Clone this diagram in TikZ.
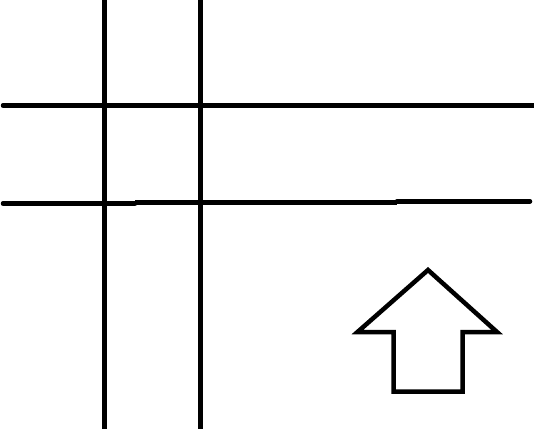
\documentclass[tikz,border=0pt]{standalone}
\usepackage{tikz}
\usetikzlibrary{arrows}
\tikzstyle{stroke} = [draw, black, line width=4.5pt]
\tikzstyle{road} = [stroke, line cap=round]
\tikzstyle{uparrow} = [stroke, line join=miter]

\begin{document}
\begin{tikzpicture}[x=1pt, y=-1pt]
	\useasboundingbox (0,0) rectangle (534,428);
	
	\coordinate (v1top) at (104.5,-3);
	\coordinate (v1bot) at (104.5,431);
	\coordinate (v2top) at (200.5,-3);
	\coordinate (v2bot) at (200.5,431);
	\draw [stroke] (v1top) -- (v1bot);
	\draw [stroke] (v2top) -- (v2bot);
	
	\coordinate (h1left) at (3,105.5);
	\coordinate (h1right) at (537,105.5);
	\draw [road] (h1left) -- (h1right);
	
	\coordinate (h2left) at (3,203.5);
	\coordinate (h2stepa) at (135,203.5);
	\coordinate (h2stepb) at (397,202.3);
	\coordinate (h2right) at (530,201.3);
	\draw [road] (h2left) -- (h2stepa);
	\draw [stroke] (h2stepa |- 0,202.3) -- (h2stepb);
	\draw [road] (h2stepb |- 0,201.3) -- (h2right);
	
	\coordinate (tip) at (428,270);
	\draw [uparrow] (tip) -- (497,332) -- (462.5,332) -- (462.5,391.5) -- (393.5,391.5) -- (393.5,332) -- (357.5,332) -- cycle;
\end{tikzpicture}
\end{document}
